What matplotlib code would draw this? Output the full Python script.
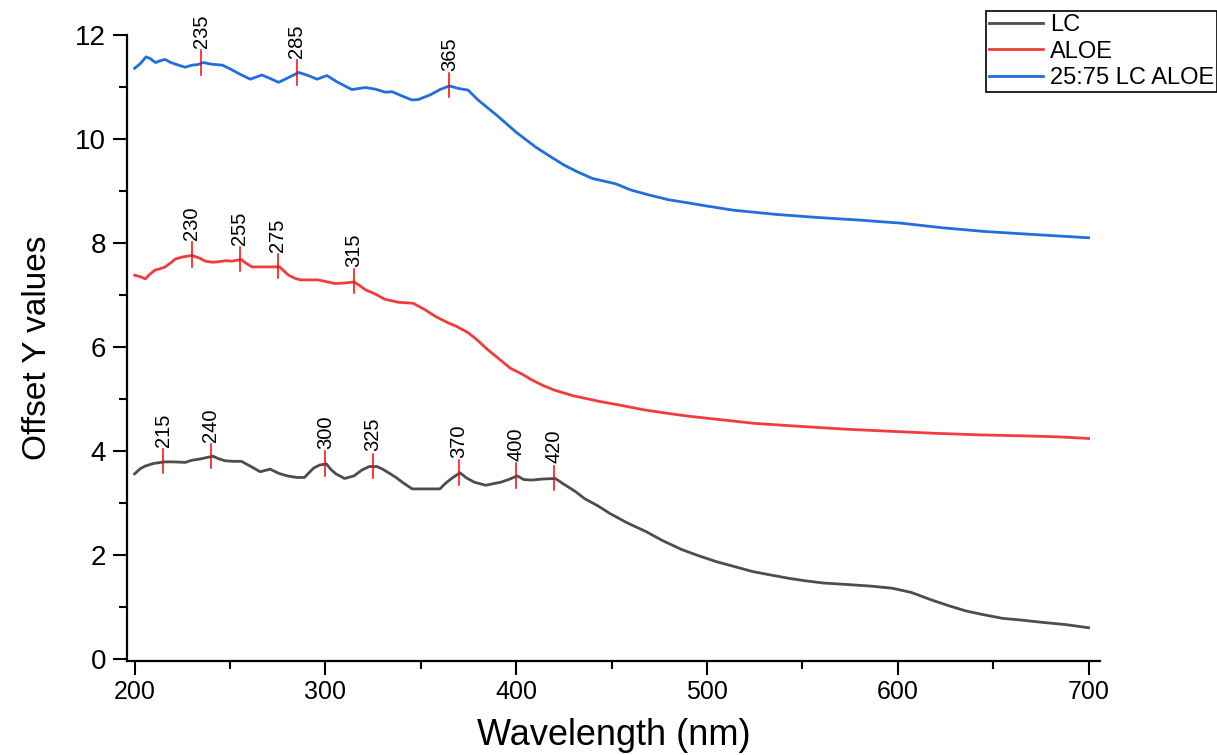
import matplotlib
matplotlib.use("Agg")
import matplotlib.pyplot as plt
from matplotlib.ticker import MultipleLocator
import numpy as np

plt.rcParams['font.family'] = ['Liberation Sans', 'DejaVu Sans']

# ---------------- data ----------------
lc_wl = [200, 203, 205.6, 210, 215.7, 220, 226.5, 230, 235, 241, 244, 247.5, 252, 256,
         261, 265.8, 271, 275.5, 280, 285, 289, 293.8, 297, 300.5, 303, 305.5, 310, 315,
         319, 323, 327, 330, 334, 337, 341, 345.5, 352, 360, 363, 366.5, 370.5, 374, 378,
         384, 392, 396, 400.5, 404, 408, 414, 420.5, 425, 431, 436, 443, 449, 458, 468,
         477, 487, 496, 505, 515, 524, 534, 543, 552, 561, 574, 586, 597, 607, 618, 627,
         636, 645, 655, 664, 674, 688, 700]
lc_val = [3.56, 3.66, 3.71, 3.76, 3.79, 3.79, 3.78, 3.82, 3.85, 3.90, 3.85, 3.81, 3.80, 3.80,
          3.70, 3.60, 3.65, 3.57, 3.52, 3.49, 3.49, 3.67, 3.73, 3.75, 3.64, 3.56, 3.47, 3.52,
          3.63, 3.70, 3.70, 3.65, 3.56, 3.49, 3.38, 3.27, 3.27, 3.27, 3.38, 3.48, 3.58, 3.48, 3.40,
          3.34, 3.40, 3.45, 3.52, 3.45, 3.44, 3.46, 3.47, 3.36, 3.22, 3.08, 2.94, 2.80, 2.62, 2.45,
          2.27, 2.10, 1.98, 1.87, 1.77, 1.68, 1.61, 1.55, 1.50, 1.46, 1.43, 1.40, 1.36, 1.28, 1.13, 1.02,
          0.92, 0.85, 0.78, 0.75, 0.71, 0.66, 0.60]

aloe_wl = [200, 203, 205.6, 208, 210.8, 213, 216, 219, 221.3, 225, 230, 234, 237, 241, 244,
           248, 251, 254, 256, 258, 261.5, 270, 276, 278, 280.7, 284, 287, 296, 300, 305,
           310, 315, 318, 321, 326, 331, 338, 346, 352, 358, 364, 369, 375, 380, 385, 390,
           397, 403, 408, 414, 420, 430, 444, 456, 467, 480, 490, 505, 525, 550, 572, 595,
           619, 642, 666, 685, 700]
aloe_val = [7.38, 7.35, 7.31, 7.40, 7.48, 7.50, 7.54, 7.62, 7.69, 7.73, 7.76, 7.71, 7.65, 7.63, 7.64,
            7.66, 7.65, 7.67, 7.68, 7.62, 7.54, 7.54, 7.54, 7.47, 7.38, 7.32, 7.29, 7.29, 7.26, 7.22,
            7.23, 7.25, 7.18, 7.10, 7.02, 6.92, 6.86, 6.84, 6.72, 6.58, 6.47, 6.39, 6.27, 6.12, 5.95, 5.80,
            5.59, 5.48, 5.37, 5.26, 5.17, 5.06, 4.95, 4.87, 4.79, 4.72, 4.67, 4.61, 4.53, 4.47, 4.42, 4.38,
            4.34, 4.31, 4.29, 4.27, 4.24]

mix_wl = [200, 203, 206, 208, 211, 213, 216, 219, 223, 226.5, 230, 233, 236, 240, 246, 250,
          255, 260.6, 266.7, 270, 275.5, 280, 286, 291, 295.6, 300.8, 306, 313.9, 320.9, 326,
          331.4, 334.9, 340, 345.4, 348.8, 355, 360, 365, 370, 374.8, 380, 390, 400, 410, 418,
          425, 432, 440, 452, 460, 470, 480, 492, 500, 514, 536, 558, 580, 602, 624, 646, 668, 700]
mix_val = [11.36, 11.45, 11.58, 11.55, 11.47, 11.50, 11.53, 11.47, 11.42, 11.38, 11.42, 11.43, 11.47,
           11.44, 11.42, 11.35, 11.25, 11.15, 11.23, 11.18, 11.09, 11.17, 11.28, 11.22, 11.15, 11.22,
           11.10, 10.95, 10.99, 10.96, 10.90, 10.91, 10.83, 10.75, 10.76, 10.85, 10.95, 11.02, 10.97,
           10.94, 10.75, 10.45, 10.13, 9.85, 9.66, 9.50, 9.37, 9.24, 9.14, 9.02, 8.92, 8.83, 8.76,
           8.71, 8.63, 8.55, 8.49, 8.44, 8.38, 8.29, 8.22, 8.17, 8.10]

lc_peaks = [215, 240, 300, 325, 370, 400, 420]
aloe_peaks = [230, 255, 275, 315]
mix_peaks = [235, 285, 365]

labels = ["LC", "ALOE", "25:75 LC ALOE"]
colors = ["#4D4D4D", "#F23C3C", "#1F6FDD"]

# ---------------- figure ----------------
fig = plt.figure(figsize=(12.17, 7.55), dpi=100)
ax = fig.add_axes([127 / 1217, 1 - 661 / 755, (1100 - 127) / 1217, (661 - 35) / 755])

series = [(lc_wl, lc_val, lc_peaks), (aloe_wl, aloe_val, aloe_peaks), (mix_wl, mix_val, mix_peaks)]
handles = []
for (wl, val, peaks), lab, col in zip(series, labels, colors):
    h, = ax.plot(wl, val, color=col, lw=2.0, label=lab, zorder=3)
    handles.append(h)
    for p in peaks:
        yv = float(np.interp(p, wl, val))
        ax.plot([p, p], [yv - 0.22, yv + 0.25], color="#FF0000", lw=1.1, zorder=4)
        ax.text(p, yv + 0.29, str(p), rotation=90, ha="center", va="bottom",
                fontsize=14.5, color="black", zorder=5)

ax.set_xlim(196, 706)
ax.set_ylim(-0.04, 12.0)
ax.xaxis.set_major_locator(MultipleLocator(100))
ax.xaxis.set_minor_locator(MultipleLocator(50))
ax.yaxis.set_major_locator(MultipleLocator(2))
ax.yaxis.set_minor_locator(MultipleLocator(1))

for s in ["top", "right"]:
    ax.spines[s].set_visible(False)
for s in ["left", "bottom"]:
    ax.spines[s].set_linewidth(1.6)
    ax.spines[s].set_color("black")

ax.tick_params(axis="both", which="major", direction="out", length=10, width=1.5, color="black")
ax.tick_params(axis="both", which="minor", direction="out", length=5.5, width=1.5, color="black")
ax.tick_params(axis="y", which="major", labelsize=20, pad=5)
ax.tick_params(axis="x", which="major", labelsize=18, pad=4)

ax.set_xlabel("Wavelength (nm)", fontsize=26, labelpad=10)
ax.set_ylabel("Offset Y values", fontsize=24, labelpad=16)

leg = fig.legend(handles=handles, labels=labels, loc="upper left",
                 bbox_to_anchor=(986 / 1217, 1 - 11 / 755), fontsize=17,
                 frameon=True, fancybox=False, shadow=False, framealpha=1,
                 edgecolor="black", borderpad=0.12, labelspacing=0.2,
                 handlelength=2.3, handletextpad=0.3, borderaxespad=0.0)
leg.get_frame().set_linewidth(1.2)

fig.savefig("out.png", dpi=100)
